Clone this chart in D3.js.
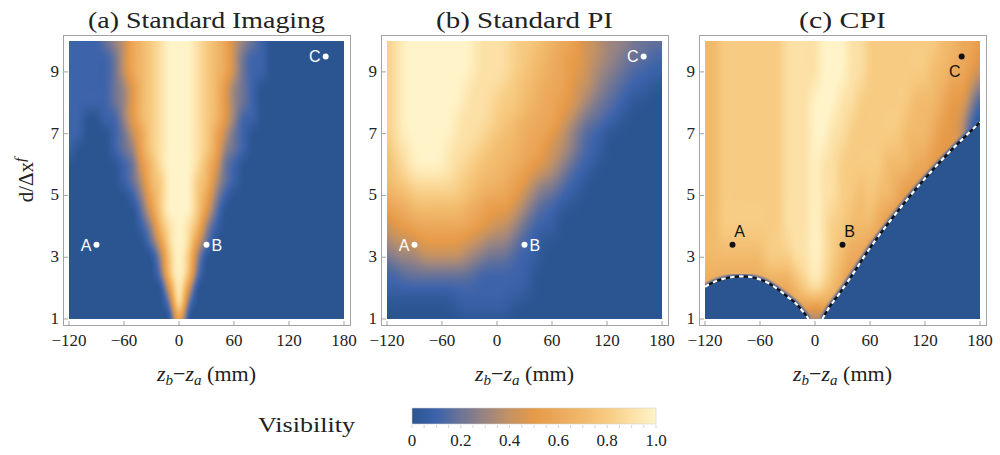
<!DOCTYPE html>
<html lang="en">
<head>
<meta charset="UTF-8">
<title>Visibility maps</title>
<script src="https://cdn.jsdelivr.net/npm/d3@7"></script>
<style>
    *{margin:0;padding:0}
    body{background:#fff}
    svg text{font-family:"Liberation Serif","DejaVu Serif",serif;fill:#222}
    svg text.pt{font-family:"Liberation Sans","DejaVu Sans",sans-serif}
</style>
</head>
<body>
<svg id="chart" width="1000" height="455"></svg>
<script>
    // grid columns (mm)
    var zGrid = [-120,-110,-100,-90,-80,-70,-60,-50,-40,-30,-20,-10,0,10,20,30,40,50,60,70,80,90,100,110,120,130,140,150,160,170,180];
    // grid rows (d/dx^f, top row first)
    var dRowsFine = [10,9.5,9,8.5,8,7.5,7,6.5,6,5.5,5,4.5,4,3.5,3,2.5,2,1.5,1];
    var dRowsCoarse = [10,9,8,7,6,5,4,3,2,1];

    // visibility, one char per column: 0..9 -> 0.0..0.9, a -> 1.0
    // groups: -120..-70 | -60..-10 | 0..50 | 60..110 | 120..170 | 180
    var rowsImaging = [
        "111123 46789a aa9876 432100 000000 0",
        "111112 46789a aa9876 421100 000000 0",
        "111112 46789a aa9876 421100 000000 0",
        "111112 35789a aa9875 321000 000000 0",
        "111112 35789a aa9875 321000 000000 0",
        "110011 35789a aa9875 311000 000000 0",
        "110001 24689a aa9864 210000 000000 0",
        "100001 23689a aa9863 210000 000000 0",
        "000000 12579a aa9752 100000 000000 0",
        "000000 12478a aa8742 100000 000000 0",
        "000000 01368a aa8631 000000 000000 0",
        "000000 00258a aa8520 000000 000000 0",
        "000000 001379 a97310 000000 000000 0",
        "000000 000259 a95200 000000 000000 0",
        "000000 000038 a83000 000000 000000 0",
        "000000 000028 a82000 000000 000000 0",
        "000000 000005 a50000 000000 000000 0",
        "000000 000002 a20000 000000 000000 0",
        "000000 000000 600000 000000 000000 0"
    ];
    var rowsPI = [
        "89aaaa aaaa99 998887 766544 333222 2",
        "89aaaa aaaa99 998877 665544 332221 1",
        "89aaaa aaaa99 998877 665543 322111 1",
        "89aaaa aaa999 988776 665443 221110 0",
        "89aaaa aaa999 888776 655432 211000 0",
        "89aaaa aa9999 887766 654322 110000 0",
        "89aaaa aa9998 877666 543211 000000 0",
        "799aaa a99988 777665 443211 000000 0",
        "789aaa a99887 776655 432110 000000 0",
        "788999 998877 766543 321100 000000 0",
        "677888 888776 665432 211000 000000 0",
        "566777 777665 554321 100000 000000 0",
        "455666 666655 443211 100000 000000 0",
        "344455 555443 332110 000000 000000 0",
        "233344 444332 221110 000000 000000 0",
        "112222 222211 111100 000000 000000 0",
        "111111 111111 111100 000000 000000 0",
        "000000 001111 110000 000000 000000 0",
        "000000 000000 000000 000000 000000 0"
    ];
    var rowsCPI = [
        "778888 888999 9aaa99 888888 887766 5",
        "778888 888999 9aaa99 888888 877665 4",
        "778888 888999 aaa998 888887 776553 1",
        "778888 888999 aa9988 888877 765541 0",
        "778888 888999 a99888 887776 655554 0",
        "778888 888999 a99887 877655 555555 5",
        "778888 888999 a98877 765555 555555 5",
        "777777 788899 a98766 555555 555555 5",
        "666666 666678 987655 555555 555555 5",
        "555555 555554 345555 555555 555555 5"
    ];

    // CPI boundaries (dashed curves)
    var domeZ = [-120,-110,-100,-90,-80,-70,-60,-50,-40,-30,-20,-12,-7];
    var domeD = [2.04,2.2,2.3,2.36,2.38,2.36,2.28,2.15,1.95,1.72,1.48,1.2,1.0];
    var edgeZ = [8,15,27,40,60,80,100,120,140,160,180];
    var edgeD = [1.0,1.35,1.84,2.4,3.3,4.1,4.85,5.55,6.2,6.8,7.37];

    var panelTitles = ["(a)  Standard Imaging","(b)  Standard PI","(c)  CPI"];
    var titleWidths = [237,177,87];

    var pointNames = ["A","B","C"];
    var pointZ = [-90,30,160];
    var pointD = [3.4,3.4,9.5];

    var xTicks = [-120,-60,0,60,120,180];
    var yTicks = [1,3,5,7,9];
    var cbTicks = [0,0.2,0.4,0.6,0.8,1.0];
    var cbLabels = ["0","0.2","0.4","0.6","0.8","1.0"];

    var visStops = [0,0.1,0.2,0.3,0.4,0.5,0.6,0.7,0.8,0.9,1.0];
    var visColors = ["#2a5591","#3d63ab","#6c7496","#9a8480","#c59262","#e69a48","#eca85a","#f1b96b","#f7cb82","#fce0a5","#fff4c9"];

    var visColor = d3.scaleLinear().domain(visStops).range(visColors).clamp(true);

    var svg = d3.select("#chart");
    var defs = svg.append("defs");
    defs.append("filter").attr("id","soft").attr("x","-5%").attr("y","-5%").attr("width","110%").attr("height","110%")
        .append("feGaussianBlur").attr("stdDeviation",1);
    defs.append("filter").attr("id","soft2").attr("x","-5%").attr("y","-5%").attr("width","110%").attr("height","110%")
        .append("feGaussianBlur").attr("stdDeviation",0.6);

    var y = d3.scaleLinear().domain([1,10]).range([319,41]);
    var panelLeft = [69,387,705];
    var panelRows = [rowsImaging,rowsPI,rowsCPI];
    var panelD = [dRowsFine,dRowsFine,dRowsCoarse];
    var panelBlur = [[3,5],[6,9],[4,6]];

    // smooth (catmull-rom) drawing of the grid into a canvas the size of the plot
    function cr(p0,p1,p2,p3,t) {
        return 0.5*((2*p1)+(-p0+p2)*t+(2*p0-5*p1+4*p2-p3)*t*t+(-p0+3*p1-3*p2+p3)*t*t*t);
    }
    function blur1d(src, w, h, sigma, horizontal) {
        var r = Math.ceil(sigma*3), ker = [], sum = 0;
        for (var q = -r; q <= r; q++) { var e = Math.exp(-q*q/(2*sigma*sigma)); ker.push(e); sum += e; }
        ker = ker.map(function (e) { return e/sum; });
        var out = new Float32Array(w*h);
        for (var py = 0; py < h; py++) {
            for (var px = 0; px < w; px++) {
                var acc = 0;
                for (var q = -r; q <= r; q++) {
                    var sx = horizontal ? Math.max(0,Math.min(w-1,px+q)) : px;
                    var sy = horizontal ? py : Math.max(0,Math.min(h-1,py+q));
                    acc += ker[q+r]*src[sy*w+sx];
                }
                out[py*w+px] = acc;
            }
        }
        return out;
    }
    function heatImage(rows, dRows, x, sig) {
        var grid = rows.map(function (r) {
            var s = r.replace(/\s/g,"");
            if (s.length !== zGrid.length) console.warn("row length", r, s.length);
            return s.split("").map(function (c) { return parseInt(c,16)/10; });
        });
        var nc = zGrid.length, nr = dRows.length;
        function at(i,j) {
            i = Math.max(0,Math.min(nc-1,i)); j = Math.max(0,Math.min(nr-1,j));
            return grid[j][i];
        }
        var x0 = Math.round(x(-120)), x1 = Math.round(x(180)), y0 = Math.round(y(10)), y1 = Math.round(y(1));
        var w = x1-x0, h = y1-y0;
        var val = new Float32Array(w*h);
        var zStep = zGrid[1]-zGrid[0], dStep = dRows[0]-dRows[1];
        for (var py = 0; py < h; py++) {
            var fj = (dRows[0]-y.invert(y0+py+0.5))/dStep;
            var j = Math.floor(fj), tj = fj-j;
            for (var px = 0; px < w; px++) {
                var fi = (x.invert(x0+px+0.5)-zGrid[0])/zStep;
                var i = Math.floor(fi), ti = fi-i;
                var col = [];
                for (var m = -1; m <= 2; m++) {
                    col.push(cr(at(i-1,j+m),at(i,j+m),at(i+1,j+m),at(i+2,j+m),ti));
                }
                val[py*w+px] = cr(col[0],col[1],col[2],col[3],tj);
            }
        }
        val = blur1d(blur1d(val,w,h,sig[0],true),w,h,sig[1],false);
        var cv = document.createElement("canvas");
        cv.width = w; cv.height = h;
        var ctx = cv.getContext("2d");
        var img = ctx.createImageData(w,h);
        for (var n = 0; n < w*h; n++) {
            var c = d3.rgb(visColor(val[n]));
            img.data[n*4] = c.r; img.data[n*4+1] = c.g; img.data[n*4+2] = c.b; img.data[n*4+3] = 255;
        }
        ctx.putImageData(img,0,0);
        return {href: cv.toDataURL(), x: x0, y: y0, w: w, h: h};
    }

    panelRows.forEach(function (rows, k) {
        var x = d3.scaleLinear().domain([-120,180]).range([panelLeft[k], panelLeft[k]+275]);
        var g = svg.append("g");
        var cx = (x(-120)+x(180))/2;

        defs.append("clipPath").attr("id","clip"+k).append("rect")
            .attr("x",x(-120)).attr("y",y(10))
            .attr("width",x(180)-x(-120)).attr("height",y(1)-y(10));
        var plot = g.append("g").attr("clip-path","url(#clip"+k+")");

        var hm = heatImage(rows, panelD[k], x, panelBlur[k]);
        plot.append("image").attr("href",hm.href).attr("preserveAspectRatio","none")
            .attr("x",hm.x).attr("y",hm.y).attr("width",hm.w).attr("height",hm.h);

        if (k === 2) {
            var dome = domeZ.map(function (z,i) { return [z,domeD[i]]; });
            var edge = edgeZ.map(function (z,i) { return [z,edgeD[i]]; });
            var line = d3.line().x(function (d) { return x(d[0]); }).y(function (d) { return y(d[1]); })
                .curve(d3.curveMonotoneX);
            var area = d3.area().x(function (d) { return x(d[0]); }).y0(y(0.5)).y1(function (d) { return y(d[1]); })
                .curve(d3.curveMonotoneX);
            [dome,edge].forEach(function (c) {
                plot.append("path").attr("d",line(c)).attr("fill","none")
                    .attr("stroke",visColor(0.1)).attr("stroke-width",5).attr("filter","url(#soft)");
            });
            [dome,edge.concat([[185,7.6]])].forEach(function (c) {
                plot.append("path").attr("d",area(c)).attr("fill",visColor(0)).attr("filter","url(#soft2)");
            });
            [dome,edge].forEach(function (c) {
                plot.append("path").attr("d",line(c)).attr("fill","none")
                    .attr("stroke","#111").attr("stroke-width",2.2);
                plot.append("path").attr("d",line(c)).attr("fill","none")
                    .attr("stroke","#fff").attr("stroke-width",2.2).attr("stroke-dasharray","4.5 4.5");
            });
        }

        // points
        var ptColor = k === 2 ? "#111" : "#fff";
        pointNames.forEach(function (n,i) {
            var px = x(pointZ[i]), py = y(pointD[i]);
            plot.append("circle").attr("cx",px).attr("cy",py).attr("r",3).attr("fill",ptColor);
            var t = plot.append("text").attr("class","pt").style("font-size","16px").style("fill",ptColor).text(n);
            if (k === 2) {
                if (n === "C") t.attr("x",px-7).attr("y",py+21).attr("text-anchor","middle");
                else t.attr("x",px+7).attr("y",py-8).attr("text-anchor","middle");
            } else {
                if (n === "B") t.attr("x",px+5).attr("y",py+6).attr("text-anchor","start");
                else t.attr("x",px-5).attr("y",py+6).attr("text-anchor","end");
            }
        });

        // frame
        var fx0 = x(-120)-6, fx1 = x(180)+6, fy0 = 35, fy1 = 325;
        g.append("rect").attr("x",fx0+0.5).attr("y",fy0+0.5).attr("width",fx1-fx0).attr("height",fy1-fy0)
            .attr("fill","none").attr("stroke","#a3a3a3").attr("stroke-width",1);

        xTicks.forEach(function (t) {
            g.append("line").attr("x1",x(t)).attr("x2",x(t)).attr("y1",fy1+0.5).attr("y2",fy1-4)
                .attr("stroke","#a3a3a3");
            g.append("text").attr("x",x(t)).attr("y",346).attr("text-anchor","middle")
                .style("font-size","17px").text(t < 0 ? "\u2212" + Math.abs(t) : t);
        });
        yTicks.forEach(function (t) {
            g.append("line").attr("x1",fx0+0.5).attr("x2",fx0+5).attr("y1",y(t)).attr("y2",y(t))
                .attr("stroke","#a3a3a3");
            g.append("text").attr("x",fx0-4).attr("y",y(t)+5).attr("text-anchor","end")
                .style("font-size","17px").text(t);
        });

        // title
        g.append("text").attr("x",cx).attr("y",28).attr("text-anchor","middle")
            .attr("textLength",titleWidths[k]).attr("lengthAdjust","spacingAndGlyphs")
            .style("font-size","24px").text(panelTitles[k]);

        // x title
        var xt = g.append("text").attr("x",cx).attr("y",381).attr("text-anchor","middle").style("font-size","22px");
        xt.append("tspan").style("font-style","italic").text("z");
        xt.append("tspan").style("font-style","italic").style("font-size","15px").attr("dy",4).text("b");
        xt.append("tspan").attr("dy",-4).text("\u2212");
        xt.append("tspan").style("font-style","italic").text("z");
        xt.append("tspan").style("font-style","italic").style("font-size","15px").attr("dy",4).text("a");
        xt.append("tspan").attr("dy",-4).text(" (mm)");
    });

    // y title
    var yt = svg.append("text").attr("transform","translate(33,180) rotate(-90)")
        .attr("text-anchor","middle").style("font-size","21px");
    yt.append("tspan").text("d/\u0394x");
    yt.append("tspan").attr("dy",-8).style("font-size","15px").style("font-style","italic").text("f");

    // colour bar
    var cb = d3.scaleLinear().domain([0,1]).range([412,656]);
    var grad = defs.append("linearGradient").attr("id","visGrad");
    visStops.forEach(function (s,i) {
        grad.append("stop").attr("offset",(s*100)+"%").attr("stop-color",visColors[i]);
    });
    svg.append("rect").attr("x",cb(0)).attr("y",408).attr("width",cb(1)-cb(0)).attr("height",16)
        .attr("fill","url(#visGrad)").attr("stroke","#d0d0d0").attr("stroke-width",0.6);
    d3.range(0,1.0001,0.05).forEach(function (t) {
        svg.append("line").attr("x1",cb(t)).attr("x2",cb(t)).attr("y1",425).attr("y2",428)
            .attr("stroke","#c8c8c8").attr("stroke-width",0.8);
    });
    cbTicks.forEach(function (t,i) {
        svg.append("text").attr("x",cb(t)).attr("y",446).attr("text-anchor","middle")
            .style("font-size","17px").text(cbLabels[i]);
    });
    svg.append("text").attr("x",355).attr("y",432).attr("text-anchor","end")
        .attr("textLength",97).attr("lengthAdjust","spacingAndGlyphs")
        .style("font-size","22px").text("Visibility");
</script>
</body>
</html>
